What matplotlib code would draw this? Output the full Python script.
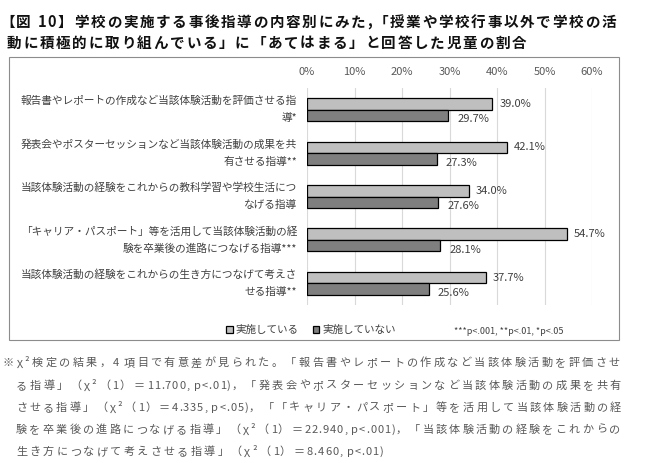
import matplotlib
matplotlib.use('Agg')
import matplotlib.pyplot as plt
from matplotlib.patches import Rectangle
import numpy as np

plt.rcParams['font.family'] = ['Noto Sans CJK JP', 'DejaVu Sans']

# ---------------- data ----------------
title_lines = [
    '【図 10】学校の実施する事後指導の内容別にみた,「授業や学校行事以外で学校の活',
    '動に積極的に取り組んでいる」に「あてはまる」と回答した児童の割合',
]
category_line1 = [
    '報告書やレポートの作成など当該体験活動を評価させる指',
    '発表会やポスターセッションなど当該体験活動の成果を共',
    '当該体験活動の経験をこれからの教科学習や学校生活につ',
    '「キャリア・パスポート」等を活用して当該体験活動の経',
    '当該体験活動の経験をこれからの生き方につなげて考えさ',
]
category_line2 = [
    '導*',
    '有させる指導**',
    'なげる指導',
    '験を卒業後の進路につなげる指導***',
    'せる指導**',
]
implemented = [39.0, 42.1, 34.0, 54.7, 37.7]
not_implemented = [29.7, 27.3, 27.6, 28.1, 25.6]
series_names = ['実施している', '実施していない']
xticks = [0, 10, 20, 30, 40, 50, 60]
sig_note = '***p<.001, **p<.01, *p<.05'
footnote_lines = [
    '※χ²検定の結果，4 項目で有意差が見られた。「報告書やレポートの作成など当該体験活動を評価させ',
    'る指導」（χ²（1）＝11.700, p<.01)，「発表会やポスターセッションなど当該体験活動の成果を共有',
    'させる指導」（χ²（1）＝4.335, p<.05)，「「キャリア・パスポート」等を活用して当該体験活動の経',
    '験を卒業後の進路につなげる指導」（χ²（1）＝22.940, p<.001)，「当該体験活動の経験をこれからの',
    '生き方につなげて考えさせる指導」（χ²（1）＝8.460, p<.01)',
]

# ---------------- figure ----------------
W, H = 646, 463
fig = plt.figure(figsize=(W / 100, H / 100), dpi=100)
fig.patch.set_facecolor('white')


def fx(px):
    return px / W


def fy(py):
    return 1 - py / H


renderer = fig.canvas.get_renderer()
_cache = {}


def _w(s, size, weight):
    t = fig.text(0, 0, s, fontsize=size, fontweight=weight)
    w = t.get_window_extent(renderer).width
    t.remove()
    return w


def adv(ch, size, weight):
    key = (ch, size, weight)
    if key not in _cache:
        _cache[key] = _w('|' + ch + '|', size, weight) - _w('||', size, weight)
    return _cache[key]


def draw_spaced(x0, yc, s, size, color, weight='normal', x1=None, spacing=0.0,
                ascii_factor=1.0):
    widths = [adv(c, size, weight) for c in s]
    gw = [(ascii_factor if c.isascii() else 1.0) for c in s[:-1]] + [0.0]
    if x1 is not None:
        spacing = (x1 - x0 - sum(widths)) / sum(gw)
    em = size * 100 / 72
    base = yc + 0.38 * em
    x = x0
    for c, w, g in zip(s, widths, gw):
        if c != ' ':
            fig.text(fx(x), fy(base), c, ha='left', va='baseline',
                     fontsize=size, fontweight=weight, color=color)
        x += w + g * spacing
    return spacing


# title
tsize = 10.5
sp = draw_spaced(0, 21, title_lines[0], tsize, '#111111', weight='bold', x1=616)
draw_spaced(7, 42, title_lines[1], tsize, '#111111', weight='bold', spacing=sp)

# chart frame
fig.add_artist(Rectangle((fx(9), fy(340)), fx(619) - fx(9), fy(57) - fy(340),
                         transform=fig.transFigure, fill=False,
                         edgecolor='#8C8C8C', linewidth=0.8))

# axes
ax = fig.add_axes([fx(307), fy(305), fx(592) - fx(307), fy(88) - fy(305)])
n = len(implemented)
y = np.arange(n)
h = 0.265
b1 = ax.barh(y - h / 2, implemented, height=h, color='#BFBFBF',
             edgecolor='black', linewidth=0.9, zorder=3)
b2 = ax.barh(y + h / 2, not_implemented, height=h, color='#7F7F7F',
             edgecolor='black', linewidth=0.9, zorder=3)
ax.set_xlim(0, 60)
ax.set_ylim(n - 0.5, -0.5)
ax.set_xticks(xticks)
ax.set_xticklabels([f'{v}%' for v in xticks])
ax.xaxis.tick_top()
ax.tick_params(axis='x', length=0, pad=8, labelsize=8, labelcolor='#595959')
ax.set_yticks([])
for s in ax.spines.values():
    s.set_visible(False)
ax.grid(axis='x', color='#D9D9D9', linewidth=0.8, zorder=0)
ax.set_axisbelow(True)

for i in range(n):
    ax.annotate(f'{implemented[i]:.1f}%', xy=(implemented[i], y[i] - h / 2),
                xytext=(7, 0), textcoords='offset pixels', ha='left', va='center',
                fontsize=8, color='#404040')
    ax.annotate(f'{not_implemented[i]:.1f}%', xy=(not_implemented[i], y[i] + h / 2),
                xytext=(9, -4), textcoords='offset pixels', ha='left', va='center',
                fontsize=8, color='#404040')
    ax.annotate(category_line1[i], xy=(0, y[i]), xycoords=('axes fraction', 'data'),
                xytext=(-10, 8.5), textcoords='offset pixels', ha='right', va='center',
                fontsize=7.7, color='#404040')
    ax.annotate(category_line2[i], xy=(0, y[i]), xycoords=('axes fraction', 'data'),
                xytext=(-10, -8.5), textcoords='offset pixels', ha='right', va='center',
                fontsize=7.7, color='#404040')

# legend
fig.legend([b1, b2], series_names, loc='center', bbox_to_anchor=(fx(311), fy(330)),
           ncol=2, frameon=False, fontsize=7.6, handlelength=0.6, handleheight=0.6,
           handletextpad=0.3, columnspacing=1.3, borderpad=0, borderaxespad=0,
           labelcolor='#404040')
fig.text(fx(454), fy(331), sig_note, ha='left', va='center', fontsize=6.5,
         color='#404040')

# footnote
fsize = 8.0
fcol = '#595959'
af = 0.4
ys = [362, 384.5, 406.5, 428.5, 450.5]
sps = []
sps.append(draw_spaced(3, ys[0], footnote_lines[0], fsize, fcol, x1=620, ascii_factor=af))
sps.append(draw_spaced(16, ys[1], footnote_lines[1], fsize, fcol, x1=621, ascii_factor=af))
sps.append(draw_spaced(16, ys[2], footnote_lines[2], fsize, fcol, x1=621, ascii_factor=af))
sps.append(draw_spaced(16, ys[3], footnote_lines[3], fsize, fcol, x1=620, ascii_factor=af))
draw_spaced(16, ys[4], footnote_lines[4], fsize, fcol, spacing=float(np.mean(sps)),
            ascii_factor=af)

fig.savefig('out.png', dpi=100, facecolor='white')
